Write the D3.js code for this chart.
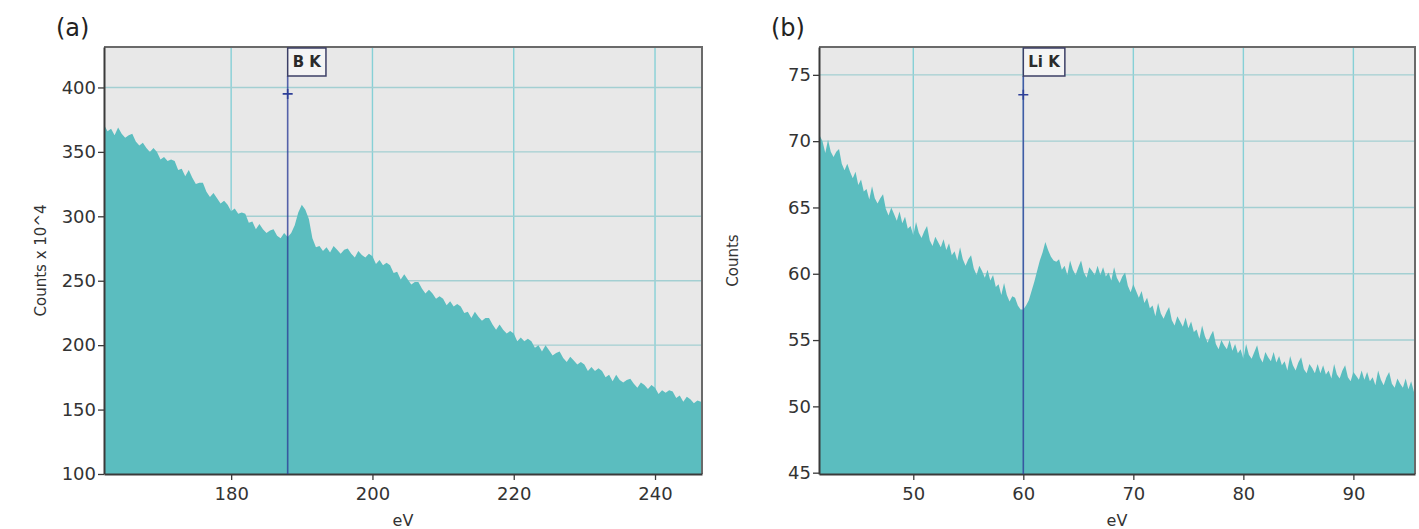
<!DOCTYPE html>
<html>
<head>
<meta charset="utf-8">
<script src="https://cdn.jsdelivr.net/npm/d3@7"></script>
<style>
  body { margin: 0; background: #ffffff; }
  svg { display: block; }
  text { font-family: "DejaVu Sans", "Noto Sans", sans-serif; }
</style>
</head>
<body>
<svg id="chart" width="1419" height="529"></svg>
<script>
// ---- (a) B K-edge spectrum: counts (x 10^4) per 0.5 eV channel, starting at 162 eV ----
const energyStartA = 162.0;
const energyStepA = 0.5;
const countsA = [
  371, 366, 368, 363, 369, 364, 361, 363, 364, 358,
  355, 357, 353, 350, 353, 350, 344, 346, 343, 344,
  343, 336, 337, 331, 336, 330, 325, 326, 326, 319,
  315, 318, 314, 310, 312, 309, 304, 306, 302, 303,
  302, 295, 296, 290, 294, 290, 287, 289, 290, 285,
  283, 287, 284, 287, 293, 303, 309, 305, 298, 283,
  276, 277, 273, 276, 272, 277, 274, 271, 274, 275,
  271, 268, 273, 270, 268, 271, 269, 263, 266, 262,
  264, 262, 256, 257, 251, 255, 251, 247, 249, 249,
  244, 240, 243, 240, 236, 238, 236, 231, 234, 230,
  232, 230, 225, 226, 221, 226, 222, 219, 221, 221,
  216, 212, 216, 212, 209, 211, 209, 203, 206, 203,
  205, 203, 198, 200, 195, 200, 196, 192, 194, 195,
  190, 187, 191, 188, 185, 187, 185, 180, 183, 180,
  182, 180, 175, 177, 172, 177, 173, 171, 173, 174,
  170, 167, 171, 169, 166, 169, 167, 162, 165, 163,
  165, 164, 159, 161, 156, 160, 158, 155, 157, 156,
  154
];
const xTicksA = [180, 200, 220, 240];
const yTicksA = [100, 150, 200, 250, 300, 350, 400];
const edgeA = { label: "B K", energy: 188, marker: 395 };

// ---- (b) Li K-edge spectrum: counts per 0.25 eV channel, starting at 41.25 eV ----
const energyStartB = 41.25;
const energyStepB = 0.25;
const countsB = [
  70.3, 70.4, 70.0, 69.1, 70.1, 69.2, 68.8, 69.2, 69.4, 68.3,
  67.8, 68.3, 67.7, 67.2, 67.7, 66.7, 67.1, 66.2, 66.4, 65.6,
  66.6, 65.7, 65.3, 65.7, 66.0, 64.9, 64.4, 65.0, 64.5, 64.0,
  64.7, 63.8, 64.3, 63.4, 63.6, 62.9, 63.9, 63.1, 62.7, 63.2,
  63.6, 62.5, 62.1, 62.8, 62.4, 62.0, 62.6, 61.8, 62.3, 61.4,
  61.7, 61.0, 62.0, 61.1, 60.6, 61.1, 61.4, 60.4, 59.9, 60.6,
  60.2, 59.7, 60.3, 59.5, 59.9, 59.0, 59.2, 58.4, 59.3, 58.4,
  57.9, 58.3, 58.2, 57.6, 57.3, 57.3, 57.6, 58.0, 58.7, 59.4,
  60.2, 61.0, 61.6, 62.4, 61.8, 61.3, 61.0, 60.9, 61.1, 60.3,
  60.6, 59.9, 61.0, 60.3, 59.9, 60.5, 61.0, 60.1, 59.7, 60.5,
  60.2, 59.9, 60.6, 59.9, 60.5, 59.8, 60.1, 59.5, 60.5, 59.7,
  59.3, 59.8, 60.1, 59.1, 58.6, 59.2, 58.7, 58.2, 58.7, 57.8,
  58.2, 57.4, 57.6, 56.8, 57.8, 57.0, 56.6, 57.1, 57.5, 56.5,
  56.1, 56.8, 56.4, 56.0, 56.7, 55.9, 56.4, 55.6, 55.8, 55.1,
  56.1, 55.3, 54.8, 55.3, 55.7, 54.7, 54.3, 55.0, 54.6, 54.3,
  55.0, 54.2, 54.7, 54.0, 54.3, 53.6, 54.7, 53.9, 53.6, 54.1,
  54.6, 53.7, 53.3, 54.1, 53.7, 53.4, 54.1, 53.3, 53.8, 53.1,
  53.4, 52.7, 53.8, 53.1, 52.7, 53.3, 53.7, 52.8, 52.5, 53.2,
  52.9, 52.5, 53.2, 52.5, 53.1, 52.4, 52.7, 52.1, 53.2, 52.4,
  52.1, 52.7, 53.1, 52.2, 51.9, 52.6, 52.3, 52.0, 52.7, 52.0,
  52.6, 51.9, 52.2, 51.6, 52.7, 52.0, 51.6, 52.2, 52.6, 51.7,
  51.4, 52.1, 51.7, 51.4, 52.1, 51.3, 51.9, 51.1, 51.5
];
const xTicksB = [50, 60, 70, 80, 90];
const yTicksB = [45, 50, 55, 60, 65, 70, 75];
const edgeB = { label: "Li K", energy: 60, marker: 73.5 };

// ---- styling ----
const COLORS = {
  plotBg: "#e8e8e8",
  fill: "#5bbdbf",
  gridV: "#86d0d6",
  gridH: "#a3cfd2",
  frame: "#6a6a6a",
  axis: "#3a3a3a",
  edge: "#2e3f98",
  text: "#333333"
};

const svg = d3.select("#chart");
const defs = svg.append("defs");

function drawPanel(cfg) {
  const { left, top, right, bottom } = cfg.box;
  const x = d3.scaleLinear().domain(cfg.xDomain).range([left, right]);
  const y = d3.scaleLinear().domain(cfg.yDomain).range([bottom, top]);

  const g = svg.append("g");
  const clipId = "clip-" + cfg.id;
  defs.append("clipPath").attr("id", clipId)
    .append("rect").attr("x", left).attr("y", top)
    .attr("width", right - left).attr("height", bottom - top);

  // plot background
  g.append("rect").attr("x", left).attr("y", top)
    .attr("width", right - left).attr("height", bottom - top)
    .attr("fill", COLORS.plotBg);

  // grid
  g.append("g").selectAll("line").data(cfg.xTicks).join("line")
    .attr("x1", d => x(d)).attr("x2", d => x(d))
    .attr("y1", top).attr("y2", bottom)
    .attr("stroke", COLORS.gridV).attr("stroke-width", 1.4);
  g.append("g").selectAll("line").data(cfg.yTicks.slice(1)).join("line")
    .attr("x1", left).attr("x2", right)
    .attr("y1", d => y(d)).attr("y2", d => y(d))
    .attr("stroke", COLORS.gridH).attr("stroke-width", 1.4);

  // spectrum as filled area
  const pts = cfg.counts.map((c, i) => [cfg.start + i * cfg.step, c]);
  const area = d3.area()
    .x(d => x(d[0]))
    .y0(y(cfg.yDomain[0]))
    .y1(d => y(d[1]))
    .curve(d3.curveLinear);
  g.append("path").datum(pts)
    .attr("clip-path", `url(#${clipId})`)
    .attr("d", area)
    .attr("fill", COLORS.fill);

  // frame (top / right)
  g.append("path")
    .attr("d", `M${left},${top}H${right}V${bottom}`)
    .attr("fill", "none").attr("stroke", COLORS.frame).attr("stroke-width", 2);

  // axes
  const yAxis = d3.axisLeft(y).tickValues(cfg.yTicks).tickSize(6).tickSizeOuter(0)
    .tickPadding(2).tickFormat(d3.format("d"));
  const gy = g.append("g").attr("transform", `translate(${left},0)`).call(yAxis);
  const xAxis = d3.axisBottom(x).tickValues(cfg.xTicks).tickSize(6).tickSizeOuter(0)
    .tickPadding(7).tickFormat(d3.format("d"));
  const gx = g.append("g").attr("transform", `translate(0,${bottom})`).call(xAxis);
  [gx, gy].forEach(ax => {
    ax.select(".domain").attr("stroke", COLORS.axis).attr("stroke-width", 2);
    ax.selectAll(".tick line").attr("stroke", COLORS.axis).attr("stroke-width", 1.3);
    ax.selectAll(".tick text").attr("fill", COLORS.text)
      .style("font-size", "18px").style("font-family", '"DejaVu Sans", sans-serif');
  });

  // edge marker line, label box and cross
  const ex = x(cfg.edge.energy);
  const boxH = 29;
  g.append("line")
    .attr("x1", ex).attr("x2", ex)
    .attr("y1", top + boxH).attr("y2", bottom)
    .attr("stroke", COLORS.edge).attr("stroke-width", 1.6).attr("stroke-opacity", 0.8);
  const labelBox = g.append("rect")
    .attr("x", ex).attr("y", top + 1)
    .attr("height", boxH - 1)
    .attr("fill", "#f4f4f4")
    .attr("stroke", "#3c3f66").attr("stroke-width", 1.5);
  const lbl = g.append("text")
    .attr("x", ex + 5).attr("y", top + 20)
    .attr("fill", "#2b2b2b")
    .style("font-size", "15px").style("font-weight", "bold")
    .text(cfg.edge.label);
  labelBox.attr("width", lbl.node().getComputedTextLength() + 10);
  const my = y(cfg.edge.marker);
  g.append("path")
    .attr("d", `M${ex - 5},${my}H${ex + 5}M${ex},${my - 5}V${my + 5}`)
    .attr("stroke", COLORS.edge).attr("stroke-width", 1.6);

  // panel letter
  svg.append("text").attr("x", cfg.letterX).attr("y", 36)
    .attr("fill", "#222").style("font-size", "24px").text(cfg.letter);

  // axis titles
  svg.append("text")
    .attr("transform", `translate(${cfg.yTitleX},${(top + bottom) / 2}) rotate(-90)`)
    .attr("text-anchor", "middle").attr("fill", COLORS.text)
    .style("font-size", "15px").text(cfg.yTitle);
  svg.append("text")
    .attr("x", (left + right) / 2).attr("y", 526)
    .attr("text-anchor", "middle").attr("fill", COLORS.text)
    .style("font-size", "16px").text("eV");
}

drawPanel({
  id: "a",
  box: { left: 104, top: 47, right: 702, bottom: 474 },
  xDomain: [162.0, 246.65],
  yDomain: [100, 431.4],
  xTicks: xTicksA, yTicks: yTicksA,
  counts: countsA, start: energyStartA, step: energyStepA,
  edge: edgeA,
  letter: "(a)", letterX: 56,
  yTitle: "Counts x 10^4", yTitleX: 46
});

drawPanel({
  id: "b",
  box: { left: 819, top: 47, right: 1415, bottom: 474 },
  xDomain: [41.43, 95.6],
  yDomain: [44.9, 77.1],
  xTicks: xTicksB, yTicks: yTicksB,
  counts: countsB, start: energyStartB, step: energyStepB,
  edge: edgeB,
  letter: "(b)", letterX: 771,
  yTitle: "Counts", yTitleX: 738
});
</script>
</body>
</html>
